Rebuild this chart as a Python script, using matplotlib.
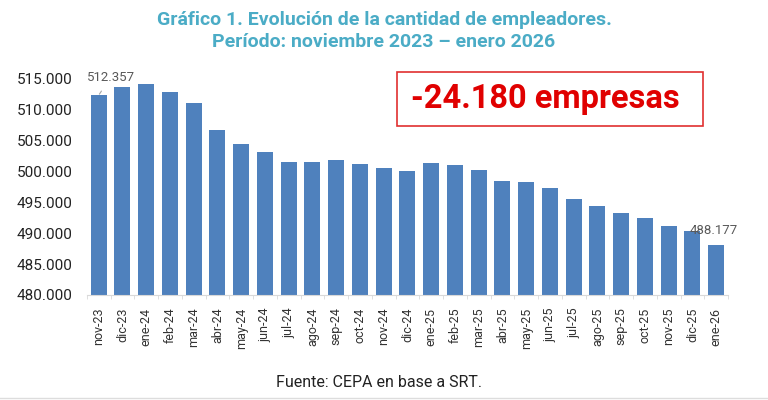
import matplotlib
matplotlib.use("Agg")
import matplotlib.pyplot as plt
from matplotlib.patches import Rectangle
import numpy as np

categories = ["nov-23", "dic-23", "ene-24", "feb-24", "mar-24", "abr-24", "may-24",
              "jun-24", "jul-24", "ago-24", "sep-24", "oct-24", "nov-24", "dic-24",
              "ene-25", "feb-25", "mar-25", "abr-25", "may-25", "jun-25", "jul-25",
              "ago-25", "sep-25", "oct-25", "nov-25", "dic-25", "ene-26"]
values = [512357, 513650, 514200, 512900, 511100, 506700, 504400,
          503100, 501600, 501600, 501800, 501200, 500600, 500100,
          501400, 501100, 500200, 498500, 498300, 497400, 495600,
          494400, 493300, 492400, 491200, 490300, 488177]
yticks = [480000, 485000, 490000, 495000, 500000, 505000, 510000, 515000]
title = "Gráfico 1. Evolución de la cantidad de empleadores.\nPeríodo: noviembre 2023 – enero 2026"
box_text = "-24.180 empresas"
source = "Fuente: CEPA en base a SRT."

plt.rcParams['font.family'] = ['Roboto', 'DejaVu Sans']

def fmt(v):
    return f"{v:,.0f}".replace(",", ".")

fig = plt.figure(figsize=(7.68, 4.0), dpi=100)
ax = fig.add_axes([0.113, 0.2625, 0.835, 0.54])
x = np.arange(len(categories))
ax.bar(x, values, width=0.67, color="#4f81bd", zorder=2)
ax.set_xlim(-0.5, len(categories) - 0.5)
ax.set_ylim(480000, 515000)
ax.set_yticks(yticks)
ax.set_yticklabels([fmt(v) for v in yticks], fontsize=11, color="#222222")
ax.set_xticks(x)
ax.set_xticklabels(categories, rotation=90, fontsize=9, color="#333333")
ax.set_xticks(np.arange(-0.5, len(categories), 1), minor=True)
ax.tick_params(axis="x", which="major", length=0, pad=9)
ax.tick_params(axis="x", which="minor", length=3, color="#d9d9d9")
ax.tick_params(axis="y", length=0, pad=10)
for s in ["top", "right", "left"]:
    ax.spines[s].set_visible(False)
ax.spines["bottom"].set_color("#d9d9d9")

# data labels
ax.annotate(fmt(values[0]), xy=(x[0], values[0]), xytext=(0.5, 515300),
            textcoords="data", ha="center", va="center", fontsize=9.5, color="#595959",
            arrowprops=dict(arrowstyle="-", color="#a6a6a6", lw=0.8,
                            shrinkA=4, shrinkB=1), annotation_clip=False)
ax.text(x[-1] - 0.1, values[-1] + 2300, fmt(values[-1]), ha="center", va="center",
        fontsize=9.5, color="#595959")

fig.text(0.5, 0.922, title, ha="center", va="center", fontsize=14,
         fontweight="bold", color="#4bacc6", linespacing=1.25)

fig.add_artist(Rectangle((397 / 768, 1 - 126 / 400), 306 / 768, 54 / 400,
                         transform=fig.transFigure, fc="white", ec="#e03030", lw=1.2))
fig.text(411 / 768, 1 - 99 / 400, box_text, ha="left", va="center", fontsize=23.5,
         fontweight="bold", color="#e00000")

fig.text(0.493, 0.043, source, ha="center", va="center", fontsize=11.5, color="#222222")
fig.add_artist(plt.Line2D([0, 1], [0.005, 0.005], color="#dddddd", lw=1))

fig.savefig("out.png", dpi=100)
